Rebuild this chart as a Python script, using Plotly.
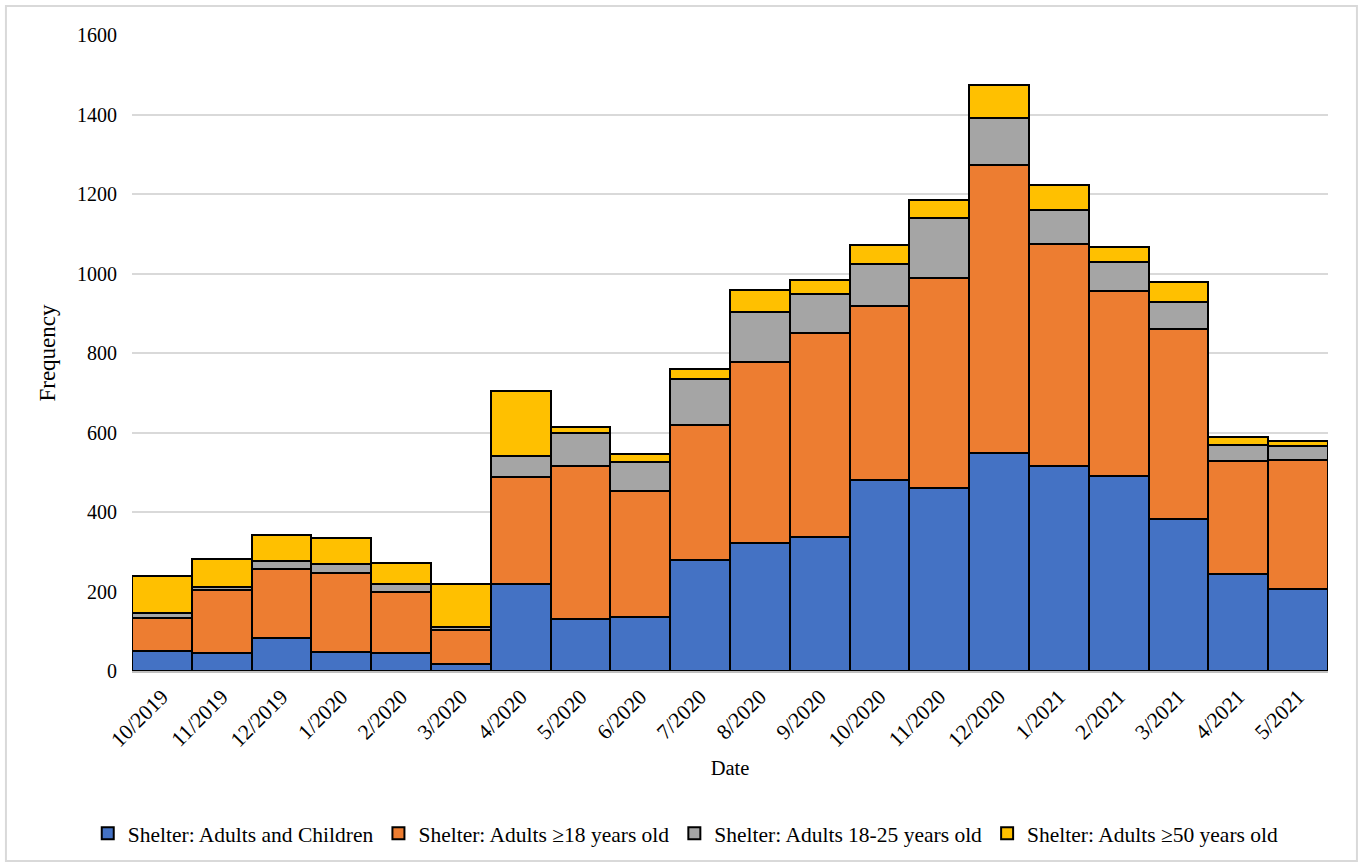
import plotly.graph_objects as go

months = ["10/2019", "11/2019", "12/2019", "1/2020", "2/2020", "3/2020", "4/2020",
          "5/2020", "6/2020", "7/2020", "8/2020", "9/2020", "10/2020", "11/2020",
          "12/2020", "1/2021", "2/2021", "3/2021", "4/2021", "5/2021"]

adults_children = [51, 46, 84, 49, 46, 18, 220, 132, 135, 279, 323, 338, 481, 461,
                   549, 516, 491, 383, 243, 206]
adults_18_plus = [82, 158, 173, 198, 154, 85, 269, 384, 318, 341, 454, 513, 437, 527,
                  724, 559, 466, 477, 285, 324]
adults_18_25 = [12, 8, 20, 23, 20, 7, 52, 84, 74, 115, 125, 97, 107, 152,
                117, 86, 72, 69, 41, 36]
adults_50_plus = [95, 70, 64, 64, 52, 110, 163, 14, 19, 25, 56, 36, 46, 44,
                  84, 61, 38, 50, 20, 13]

series = [
    ("Shelter: Adults and Children", adults_children, "#4472C4"),
    ("Shelter: Adults \u226518 years old", adults_18_plus, "#ED7D31"),
    ("Shelter: Adults 18-25 years old", adults_18_25, "#A5A5A5"),
    ("Shelter: Adults \u226550 years old", adults_50_plus, "#FFC000"),
]

FONT = "Liberation Serif, Times New Roman, serif"

fig = go.Figure()
for name, vals, color in series:
    fig.add_trace(go.Bar(
        x=months, y=vals, name=name,
        marker=dict(color=color, line=dict(color="#000000", width=2)),
    ))

fig.update_layout(
    width=1364, height=867,
    barmode="stack", bargap=0,
    paper_bgcolor="white", plot_bgcolor="white",
    font=dict(family=FONT, size=20, color="#000000"),
    margin=dict(l=132, r=36, t=35, b=196),
    legend=dict(orientation="h", x=0.463, xanchor="center", y=-0.255, yanchor="middle",
                font=dict(family=FONT, size=21.5), itemwidth=30, traceorder="normal"),
    shapes=[dict(type="rect", xref="paper", yref="paper",
                 x0=-0.1054, x1=1.0242, y0=-0.2987, y1=1.0456,
                 line=dict(color="#d9d9d9", width=2), fillcolor="rgba(0,0,0,0)",
                 layer="below")],
)

fig.update_yaxes(
    range=[0, 1600], dtick=200, showgrid=True, gridcolor="#d9d9d9", gridwidth=1.5,
    zeroline=False, showline=False, ticklabelstandoff=14,
    title=dict(text="Frequency", font=dict(family=FONT, size=23), standoff=14),
)
fig.update_xaxes(
    tickangle=-45, showline=True, linecolor="#bfbfbf", linewidth=1.5,
    ticklabelstandoff=3, tickfont=dict(family=FONT, size=21.5),
    title=dict(text="Date", font=dict(family=FONT, size=20.5), standoff=10),
)

fig.write_html("out.html")
